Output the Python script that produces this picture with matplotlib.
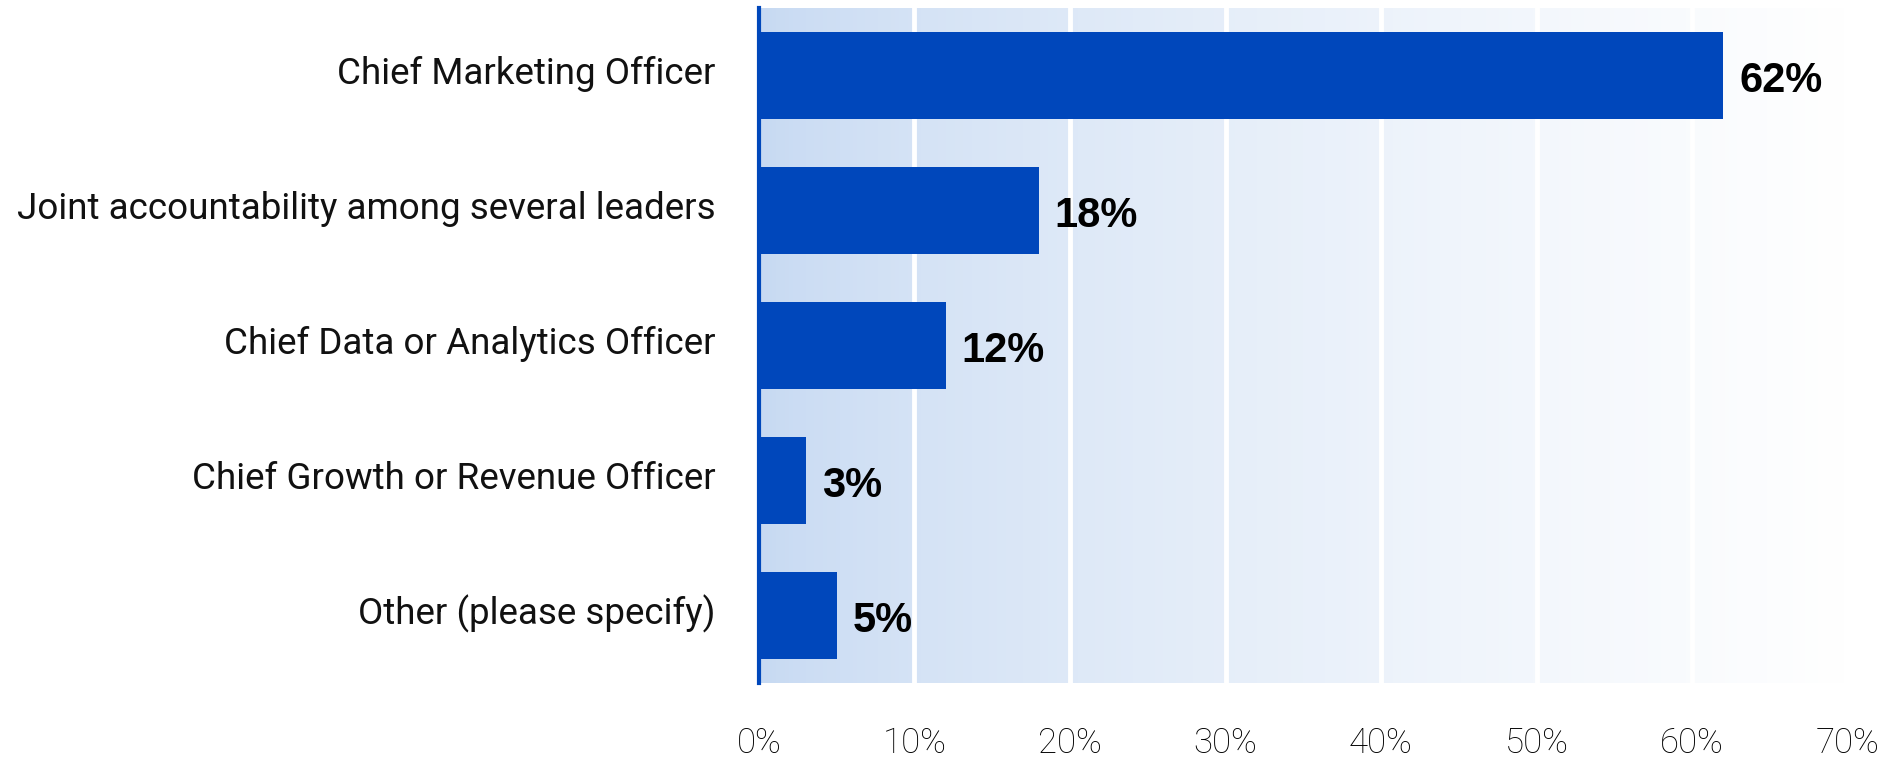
import numpy as np
import matplotlib.pyplot as plt
from matplotlib.transforms import ScaledTranslation

categories = [
    "Chief Marketing Officer",
    "Joint accountability among several leaders",
    "Chief Data or Analytics Officer",
    "Chief Growth or Revenue Officer",
    "Other (please specify)",
]
values = [62, 18, 12, 3, 5]
xticks = [0, 10, 20, 30, 40, 50, 60, 70]

bar_color = "#0047bb"

fig = plt.figure(figsize=(18.95, 7.62), dpi=100)
ax = fig.add_axes([0.4005, 0.1037, 0.5745, 0.8858])

# soft blue wash fading out to the right
grad = np.linspace(0, 1, 256)[None, :] ** 0.7
start = np.array([198, 217, 242]) / 255
stop = np.array([255, 255, 255]) / 255
wash = start[None, None, :] * (1 - grad[..., None]) + stop[None, None, :] * grad[..., None]
ax.imshow(wash, extent=(0, 70, 4.5, -0.5), aspect="auto", zorder=0)

for x in xticks[1:-1]:
    ax.axvline(x, color="white", linewidth=3.5, zorder=1)

y = np.arange(len(categories))
ax.barh(y, values, height=0.65, color=bar_color, zorder=2)

for yi, v in zip(y, values):
    ax.annotate(f"{v}%", (v, yi), xytext=(11.5, -4), textcoords="offset points",
                va="center", ha="left", fontsize=30, fontweight="bold",
                family="Liberation Sans", color="black")

ax.set_xlim(0, 70)
ax.set_ylim(4.5, -0.5)
ax.set_xticks(xticks)
ax.set_xticklabels([f"{x}%" for x in xticks])
ax.set_yticks(y)
ax.set_yticklabels(categories)

for s in ["top", "right", "bottom"]:
    ax.spines[s].set_visible(False)
ax.spines["left"].set_color(bar_color)
ax.spines["left"].set_linewidth(3)
ax.spines["left"].set_zorder(3)

ax.tick_params(axis="x", length=0, pad=31, labelsize=25)
ax.tick_params(axis="y", length=0, pad=31, labelsize=26.5)
lift = ScaledTranslation(0, 4 / 72, fig.dpi_scale_trans)
for lab in ax.get_yticklabels():
    lab.set_family("Roboto")
    lab.set_color("#111111")
    lab.set_transform(lab.get_transform() + lift)
for lab in ax.get_xticklabels():
    lab.set_family("Roboto")
    lab.set_fontweight("light")
    lab.set_color("black")

fig.savefig("out.png", dpi=100)
